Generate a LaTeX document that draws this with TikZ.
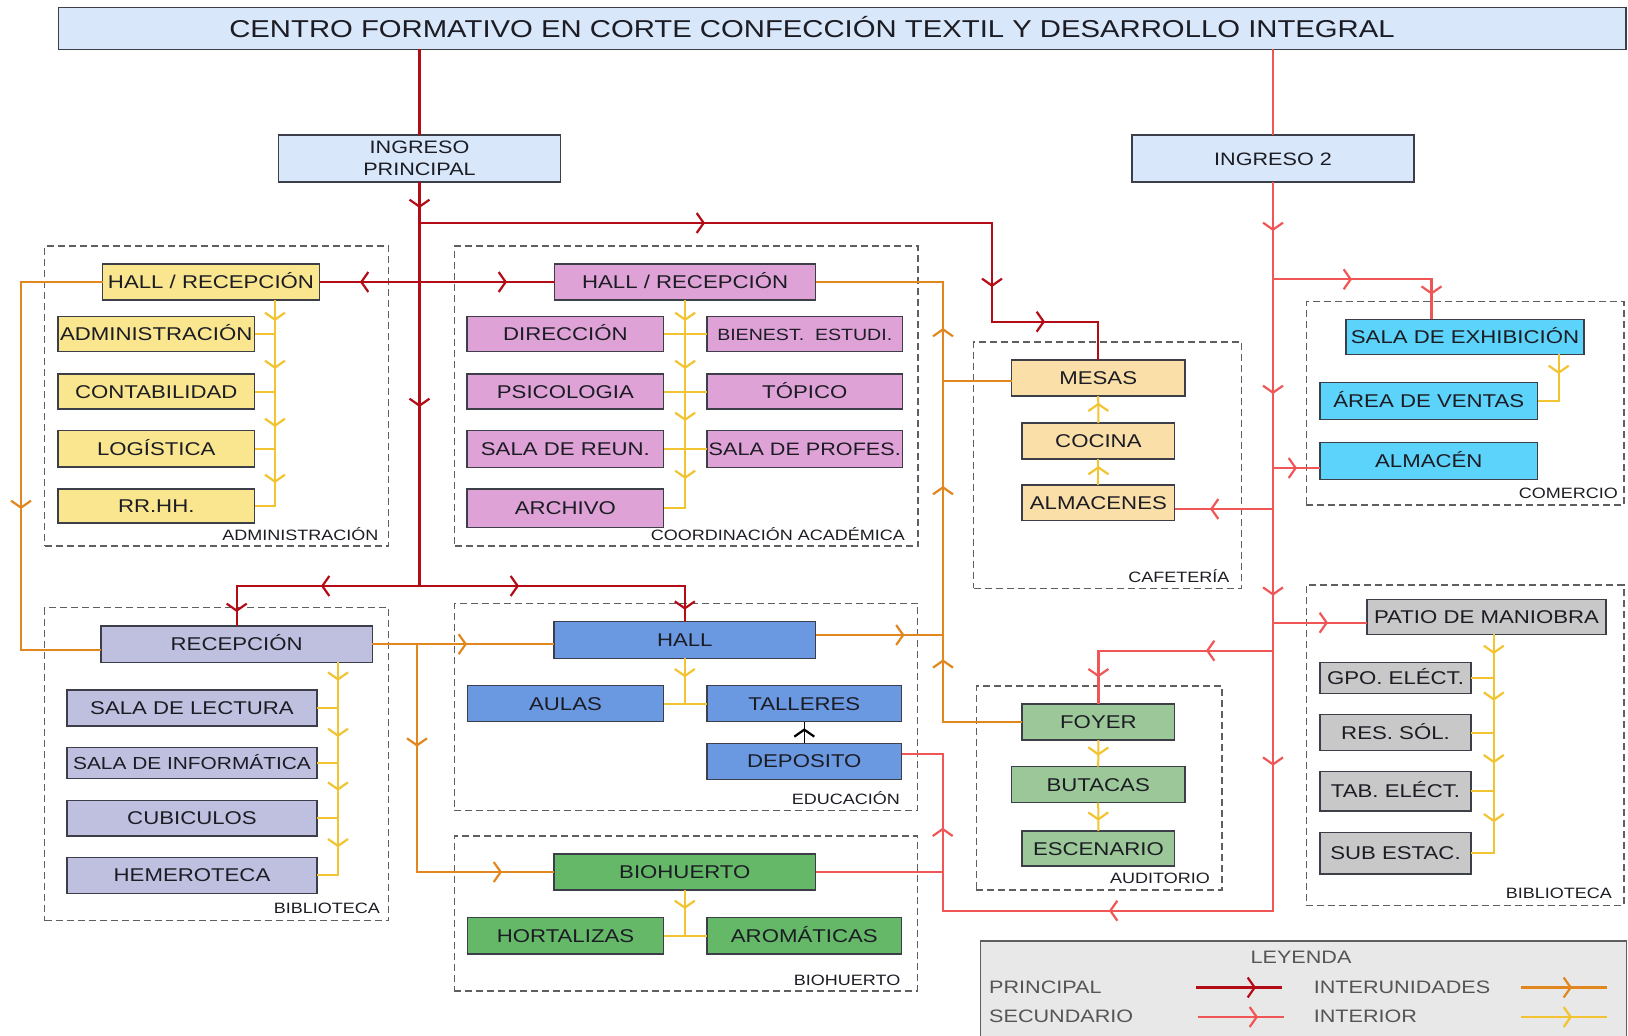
\documentclass[tikz,border=0pt]{standalone}
\usepackage{fontspec}
\setmainfont{Liberation Sans}[FakeStretch=1.2]
\usetikzlibrary{arrows.meta,decorations.markings}

\definecolor{hdrfill}{RGB}{216,231,250}
\definecolor{admfill}{RGB}{249,230,142}
\definecolor{coofill}{RGB}{222,162,214}
\definecolor{caffill}{RGB}{250,224,168}
\definecolor{comfill}{RGB}{92,211,250}
\definecolor{bibfill}{RGB}{191,192,224}
\definecolor{edufill}{RGB}{106,153,226}
\definecolor{huefill}{RGB}{100,184,104}
\definecolor{audfill}{RGB}{156,200,153}
\definecolor{serfill}{RGB}{200,200,200}
\definecolor{legfill}{RGB}{232,232,232}
\definecolor{princ}{RGB}{180,12,22}
\definecolor{secun}{RGB}{240,86,86}
\definecolor{interu}{RGB}{226,134,30}
\definecolor{inte}{RGB}{242,196,50}
\definecolor{boxline}{RGB}{60,62,72}
\definecolor{zoneline}{RGB}{95,95,95}
\definecolor{txt}{RGB}{28,28,36}
\definecolor{legtxt}{RGB}{85,85,85}

\tikzset{barb/.tip={Straight Barb[length=7pt,width=20pt,line width=2.2pt]}}

\begin{document}
\begin{tikzpicture}[
    x=1pt, y=-1pt,
    font=\fontsize{18.5}{20}\selectfont,
    unit/.style={draw=boxline, line width=1.2pt, inner sep=0pt, outer sep=0pt, text=txt, text height=13.2pt, text depth=0pt},
    wh/.style 2 args={minimum width=#1pt, minimum height=#2pt},
    zone/.style={draw=zoneline, dash pattern=on 7pt off 4pt, line width=1.1pt, inner sep=0pt, outer sep=0pt},
    zlabel/.style={font=\fontsize{15}{17}\selectfont, text=txt, anchor=east, inner sep=0pt, text height=10.7pt, text depth=0pt},
    legtext/.style={font=\fontsize{18}{20}\selectfont, text=legtxt, anchor=west, inner sep=0pt, text height=12.9pt, text depth=0pt},
    linkP/.style={draw=princ, line width=2.2pt},
    linkS/.style={draw=secun, line width=2.2pt},
    linkU/.style={draw=interu, line width=2.2pt},
    linkI/.style={draw=inte, line width=2pt},
    flow/.style={postaction={decorate, decoration={markings, mark=at position #1pt with {\pgftransformxshift{4pt}\arrow{barb}}}}}
]
\useasboundingbox (0,0) rectangle (1628,1036);

% zonas
\node[zone, wh={344}{300}] (zAdm) at (216.6,396) {};
\node[zone, wh={463.5}{300}] (zCoo) at (686.25,396) {};
\node[zone, wh={268}{246.3}] (zCaf) at (1107.5,465.15) {};
\node[zone, wh={317.6}{203.3}] (zCom) at (1465.2,403.35) {};
\node[zone, wh={344}{313}] (zBib) at (216.6,764.2) {};
\node[zone, wh={463.4}{207.4}] (zEdu) at (686,707) {};
\node[zone, wh={463.4}{155}] (zHue) at (686,913.5) {};
\node[zone, wh={245.6}{204}] (zAud) at (1099.2,788) {};
\node[zone, wh={317.6}{320.7}] (zSer) at (1465.2,745.35) {};
\node[zlabel] (lAdm) at (378.5,535) {ADMINISTRACIÓN};
\node[zlabel] (lCoo) at (905,535) {COORDINACIÓN ACADÉMICA};
\node[zlabel] (lCaf) at (1229.6,577) {CAFETERÍA};
\node[zlabel] (lCom) at (1618,492.7) {COMERCIO};
\node[zlabel] (lBib) at (380,908) {BIBLIOTECA};
\node[zlabel] (lEdu) at (900,799) {EDUCACIÓN};
\node[zlabel] (lHue) at (900.5,980) {BIOHUERTO};
\node[zlabel] (lAud) at (1210,878.3) {AUDITORIO};
\node[zlabel] (lSer) at (1612,892.7) {BIBLIOTECA};

% ingresos
\node[unit, fill=hdrfill, wh={1567.7}{42}] (title) at (842.15,28.3) {};
\node[inner sep=0pt, font=\fontsize{24.4}{28}\selectfont, text=txt, text height=17.4pt, text depth=0pt] (titleTxt) at (812,28.3) {CENTRO FORMATIVO EN CORTE CONFECCIÓN TEXTIL Y DESARROLLO INTEGRAL};
\node[unit, fill=hdrfill, wh={282}{47}, align=center, font=\fontsize{18}{22}\selectfont, text height=34.9pt] (ingP) at (419.5,158.5) {INGRESO\\PRINCIPAL};
\node[unit, fill=hdrfill, wh={282}{47}, font=\fontsize{18}{20}\selectfont] (ing2) at (1273,158.5) {INGRESO 2};

% administracion
\node[unit, fill=admfill, wh={217}{36}] (aHall) at (211,282) {HALL / RECEPCIÓN};
\node[unit, fill=admfill, wh={196.5}{35}] (aAdm) at (156.25,334.2) {ADMINISTRACIÓN};
\node[unit, fill=admfill, wh={196.5}{35}] (aCon) at (156.25,391.5) {CONTABILIDAD};
\node[unit, fill=admfill, wh={196.5}{36.3}] (aLog) at (156.25,448.85) {LOGÍSTICA};
\node[unit, fill=admfill, wh={196.5}{34}] (aRRHH) at (156.25,506) {RR.HH.};

% coordinacion academica
\node[unit, fill=coofill, wh={261}{36}] (cHall) at (685.15,282) {HALL / RECEPCIÓN};
\node[unit, fill=coofill, wh={196.8}{35}] (cDir) at (565.4,334.2) {DIRECCIÓN};
\node[unit, fill=coofill, wh={195.5}{35}, font=\fontsize{16.3}{18}\selectfont] (cBien) at (804.75,334.2) {BIENEST.\ \ ESTUDI.};
\node[unit, fill=coofill, wh={196.8}{35}] (cPsi) at (565.4,391.5) {PSICOLOGIA};
\node[unit, fill=coofill, wh={195.5}{35}] (cTop) at (804.75,391.5) {TÓPICO};
\node[unit, fill=coofill, wh={196.8}{36.6}] (cReu) at (565.4,449) {SALA DE REUN.};
\node[unit, fill=coofill, wh={195.5}{36.6}, font=\fontsize{18}{20}\selectfont] (cPro) at (804.75,449) {SALA DE PROFES.};
\node[unit, fill=coofill, wh={196.8}{38.7}] (cArc) at (565.4,508.35) {ARCHIVO};

% cafeteria
\node[unit, fill=caffill, wh={173.4}{36}] (fMes) at (1098.2,378) {MESAS};
\node[unit, fill=caffill, wh={152.8}{36}] (fCoc) at (1098.4,441) {COCINA};
\node[unit, fill=caffill, wh={152.8}{35.7}] (fAlm) at (1098.4,502.85) {ALMACENES};

% comercio
\node[unit, fill=comfill, wh={238}{35}] (mExh) at (1465,336.8) {SALA DE EXHIBICIÓN};
\node[unit, fill=comfill, wh={217.6}{37}] (mVen) at (1428.8,400.8) {ÁREA DE VENTAS};
\node[unit, fill=comfill, wh={217.6}{36.6}] (mAlm) at (1428.8,461) {ALMACÉN};

% biblioteca
\node[unit, fill=bibfill, wh={271.4}{36.3}] (bRec) at (236.7,644.15) {RECEPCIÓN};
\node[unit, fill=bibfill, wh={250}{36}] (bLec) at (192,708) {SALA DE LECTURA};
\node[unit, fill=bibfill, wh={250}{30.6}, font=\fontsize{17.4}{19}\selectfont] (bInf) at (192,763) {SALA DE INFORMÁTICA};
\node[unit, fill=bibfill, wh={250}{35.3}] (bCub) at (192,818.35) {CUBICULOS};
\node[unit, fill=bibfill, wh={250}{36}] (bHem) at (192,875.3) {HEMEROTECA};

% educacion
\node[unit, fill=edufill, wh={261.6}{36.6}] (eHall) at (684.8,640) {HALL};
\node[unit, fill=edufill, wh={196}{36}] (eAul) at (565.5,703.7) {AULAS};
\node[unit, fill=edufill, wh={194.6}{36}] (eTal) at (804.3,703.7) {TALLERES};
\node[unit, fill=edufill, wh={194.6}{36}] (eDep) at (804.3,761.3) {DEPOSITO};

% biohuerto
\node[unit, fill=huefill, wh={261.6}{36}] (hBio) at (684.8,872) {BIOHUERTO};
\node[unit, fill=huefill, wh={196}{36.3}] (hHor) at (565.5,935.85) {HORTALIZAS};
\node[unit, fill=huefill, wh={194.6}{36.3}] (hAro) at (804.3,935.85) {AROMÁTICAS};

% auditorio
\node[unit, fill=audfill, wh={152.8}{36}] (dFoy) at (1098.4,722) {FOYER};
\node[unit, fill=audfill, wh={173.4}{36}] (dBut) at (1098.2,784.7) {BUTACAS};
\node[unit, fill=audfill, wh={152.8}{35}] (dEsc) at (1098.4,848.5) {ESCENARIO};

% servicios
\node[unit, fill=serfill, wh={239}{35}] (sPat) at (1486.5,616.8) {PATIO DE MANIOBRA};
\node[unit, fill=serfill, wh={151}{31}] (sGpo) at (1395.5,677.8) {GPO. ELÉCT.};
\node[unit, fill=serfill, wh={151}{36.4}] (sRes) at (1395.5,732.5) {RES. SÓL.};
\node[unit, fill=serfill, wh={151}{39.3}] (sTab) at (1395.5,791.35) {TAB. ELÉCT.};
\node[unit, fill=serfill, wh={151}{41.3}] (sSub) at (1395.5,853.35) {SUB ESTAC.};

% puntos de cruce
\coordinate (jTop) at (419.5,223);
\coordinate (jMid) at (419.5,282);
\coordinate (jBot) at (419.5,586);
\coordinate (bMes) at (992,321.7);
\coordinate (jExh) at (1273,279.3);
\coordinate (kExh) at (1431.5,279.3);
\coordinate (jAlm) at (1273,468);
\coordinate (jCaf) at (1273,509);
\coordinate (jPat) at (1273,622.7);
\coordinate (jFoy) at (1273,650.7);
\coordinate (sLow) at (942.7,910.7);
\coordinate (oLeft) at (21,650);
\coordinate (jBio) at (417,644.15);
\coordinate (oTop) at (943,282);
\coordinate (jMes) at (943,381);
\coordinate (aBus) at (275,506);
\coordinate (bBus) at (338,875.3);
\coordinate (mBus) at (1558.7,400.8);
\coordinate (sBus) at (1493.8,853.35);

% principal
\draw[linkP] (title.south -| ingP.north) -- (ingP.north);
\draw[linkP, flow=22, flow=221] (ingP.south) -- (jBot);
\draw[linkP, flow=281.5, flow=632.5, flow=720.2] (jTop) -| (bMes) -| (fMes.north);
\draw[linkP, flow=55.5] (jMid) -- (aHall.east);
\draw[linkP, flow=83.5] (jMid) -- (cHall.west);
\draw[linkP, flow=94.5, flow=204.8] (jBot) -| (bRec.north);
\draw[linkP, flow=95.5, flow=285] (jBot) -| (eHall.north);

% secundario
\draw[linkS] (title.south -| ing2.north) -- (ing2.north);
\draw[linkS, flow=45, flow=208, flow=409.7, flow=579.7, flow=888.7, flow=1138] (ing2.south) |- (sLow) |- ([yshift=7pt]eDep.east);
\draw[linkS, flow=75, flow=169.9] (jExh) -- (kExh) -- (kExh |- mExh.north);
\draw[linkS, flow=20] (jAlm) -- (jAlm -| mAlm.west);
\draw[linkS, flow=59] (jCaf) -- (jCaf -| fAlm.east);
\draw[linkS, flow=51] (jPat) -- (jPat -| sPat.west);
\draw[linkS, flow=63, flow=197.2] (jFoy) -| (dFoy.north);
\draw[linkS] (hBio.east) -- (hBio.east -| sLow);

% interunidades
\draw[linkU, flow=304.5] (aHall.west) -| (oLeft) -- (oLeft -| bRec.west);
\draw[linkU, flow=90.6] (bRec.east) -- (bRec.east -| eHall.west);
\draw[linkU, flow=98.5, flow=308.9] (jBio) |- (hBio.west);
\draw[linkU, flow=84.9] ([yshift=5pt]eHall.east) -- ([yshift=5pt]eHall.east -| oTop);
\draw[linkU, flow=137.7, flow=311, flow=469] (dFoy.west) -| (oTop) -- (cHall.east);
\draw[linkU] (jMes) -- (jMes -| fMes.west);

% interior
\draw[linkI, flow=17, flow=65, flow=123, flow=179] (aHall.south -| aBus) -- (aBus) -- (aRRHH.east);
\foreach \n in {aAdm,aCon,aLog} \draw[linkI] (\n.east) -- (\n.east -| aBus);
\draw[linkI, flow=17, flow=65, flow=117, flow=175] (cHall.south) |- (cArc.east);
\foreach \l/\r in {cDir/cBien,cPsi/cTop,cReu/cPro} \draw[linkI] (\l.east) -- (\r.west);
\draw[linkI, flow=14.4, flow=70.7, flow=124.4, flow=181] (bRec.south -| bBus) -- (bBus) -- (bHem.east);
\foreach \n in {bLec,bInf,bCub} \draw[linkI] (\n.east) -- (\n.east -| bBus);
\draw[linkI, flow=15] (eHall.south) -- (eHall.south |- eAul.east);
\draw[linkI] (eAul.east) -- (eTal.west);
\draw[line width=1.6pt, flow=11] (eDep.north) -- (eTal.south);
\draw[linkI, flow=15] (hBio.south) -- (hBio.south |- hHor.east);
\draw[linkI] (hHor.east) -- (hAro.west);
\draw[linkI, flow=15] (fAlm.north) -- (fCoc.south);
\draw[linkI, flow=16.3] (fCoc.north) -- (fMes.south);
\draw[linkI, flow=15.7] (mExh.south -| mBus) -- (mBus) -- (mVen.east);
\draw[linkI, flow=11.7] (dFoy.south) -- (dBut.north);
\draw[linkI, flow=14] (dBut.south) -- (dEsc.north);
\draw[linkI, flow=15.7, flow=62.4, flow=125, flow=184] (sPat.south -| sBus) -- (sBus) -- (sSub.east);
\foreach \n in {sGpo,sRes,sTab} \draw[linkI] (\n.east) -- (\n.east -| sBus);

% leyenda
\node[draw=zoneline, fill=legfill, line width=1.2pt, wh={646}{100}, inner sep=0pt] (leg) at (1303.75,991) {};
\node[legtext, anchor=center] (legT) at (1301,957.5) {LEYENDA};
\node[legtext] (lgP) at (989,987.5) {PRINCIPAL};
\node[legtext] (lgS) at (989,1016) {SECUNDARIO};
\node[legtext] (lgU) at (1313.6,987.5) {INTERUNIDADES};
\node[legtext] (lgI) at (1313.6,1016) {INTERIOR};
\coordinate (lp1) at (1196,987.5);
\coordinate (lp2) at (1282,987.5);
\coordinate (ls1) at (1198,1017);
\coordinate (ls2) at (1284,1017);
\coordinate (lu1) at (1521,987.5);
\coordinate (lu2) at (1607,987.5);
\coordinate (li1) at (1521,1017);
\coordinate (li2) at (1607,1017);
\draw[linkP, flow=56] (lp1) -- (lp2);
\draw[linkS, flow=56] (ls1) -- (ls2);
\draw[linkU, flow=47] (lu1) -- (lu2);
\draw[linkI, flow=47] (li1) -- (li2);
\end{tikzpicture}
\end{document}
